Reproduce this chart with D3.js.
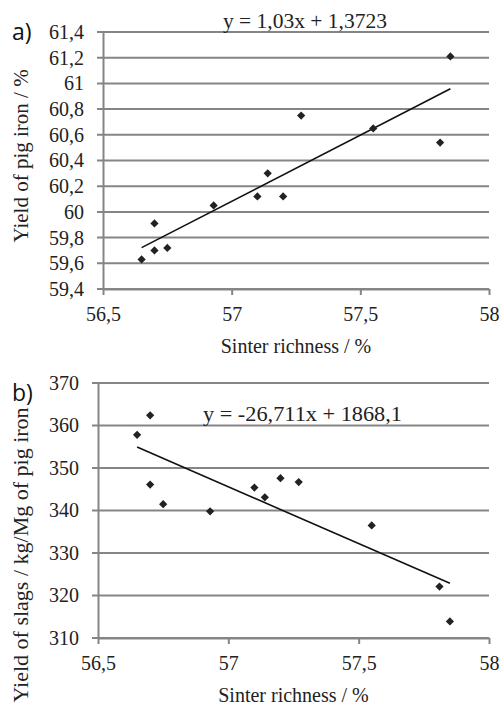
<!DOCTYPE html>
<html>
<head>
<meta charset="utf-8">
<script src="https://cdn.jsdelivr.net/npm/d3@7"></script>
<style>
  body { margin: 0; background: #fff; }
  svg { display: block; }
  .tick text { font-family: "Liberation Serif", "Times New Roman", serif !important; }
</style>
</head>
<body>
<div id="chart"></div>
<script>
const width = 501;
const height = 705;

// Data
const sinterRichness = [56.65, 56.70, 56.70, 56.75, 56.93, 57.10, 57.14, 57.20, 57.27, 57.55, 57.81, 57.85];
const pigIronYield = [59.63, 59.91, 59.70, 59.72, 60.05, 60.12, 60.30, 60.12, 60.75, 60.65, 60.54, 61.21];
const slagYield = [357.8, 362.4, 346.1, 341.5, 339.8, 345.4, 343.1, 347.6, 346.7, 336.5, 322.1, 313.9];

const xTicks = [56.5, 57, 57.5, 58];
const yTicksA = [59.4, 59.6, 59.8, 60, 60.2, 60.4, 60.6, 60.8, 61, 61.2, 61.4];
const yTicksB = [310, 320, 330, 340, 350, 360, 370];

// trend line coefficients [slope, intercept]
const trendA = [1.03, 1.3723];
const trendB = [-26.711, 1868.1];

const serif = '"Liberation Serif", "Times New Roman", serif';
const sans = '"Open Sans", "Noto Sans", sans-serif';

const locale = d3.formatLocale({ decimal: ",", thousands: " ", grouping: [3], currency: ["", ""] });
const fmt = locale.format(".1~f");

const svg = d3.select("#chart")
  .append("svg")
  .attr("width", width)
  .attr("height", height);

const panels = [
  {
    label: "a)", labelPos: [12, 40],
    values: pigIronYield, yTicks: yTicksA, trend: trendA,
    xRange: [103, 489], yRange: [289, 32],
    eq: "y = 1,03x + 1,3723", eqPos: [223, 28], eqLen: 164,
    yTitle: "Yield of pig iron / %", yTitleY: 156, yTitleSize: 21
  },
  {
    label: "b)", labelPos: [12, 401],
    values: slagYield, yTicks: yTicksB, trend: trendB,
    xRange: [98, 489], yRange: [638, 383],
    eq: "y = -26,711x + 1868,1", eqPos: [203, 421], eqLen: 199,
    yTitle: "Yield of slags / kg/Mg of pig iron", yTitleY: 555, yTitleSize: 22
  }
];

panels.forEach(p => {
  const x = d3.scaleLinear().domain([56.5, 58]).range(p.xRange);
  const y = d3.scaleLinear().domain(d3.extent(p.yTicks)).range(p.yRange);
  const g = svg.append("g");
  const left = p.xRange[0], right = p.xRange[1];

  // gridlines (start at the tick's outer end)
  g.append("g")
    .selectAll("line")
    .data(p.yTicks)
    .enter()
    .append("line")
    .attr("x1", left - 6)
    .attr("x2", right)
    .attr("y1", d => y(d))
    .attr("y2", d => y(d))
    .attr("stroke", "#858585")
    .attr("stroke-width", 2);

  // y axis
  const yAxis = g.append("g")
    .attr("transform", `translate(${left},0)`)
    .call(d3.axisLeft(y).tickValues(p.yTicks).tickFormat(fmt).tickSize(0).tickPadding(19))
    .attr("font-family", serif)
    .attr("font-size", 20);
  yAxis.select(".domain").attr("stroke", "#858585").attr("stroke-width", 2);
  yAxis.selectAll("text")
    .style("font-size", "20px")
    .style("fill", "#222");

  // x axis
  const xAxis = g.append("g")
    .attr("transform", `translate(0,${p.yRange[0]})`)
    .call(d3.axisBottom(x).tickValues(xTicks).tickFormat(fmt).tickSizeInner(6).tickSizeOuter(0).tickPadding(12))
    .attr("font-family", serif)
    .attr("font-size", 20);
  xAxis.select(".domain").attr("stroke", "#858585").attr("stroke-width", 2);
  xAxis.selectAll("line").attr("stroke", "#858585").attr("stroke-width", 2);
  xAxis.selectAll("text")
    .style("font-size", "20px")
    .style("fill", "#222");

  // trend line
  const xs = d3.extent(sinterRichness);
  g.append("line")
    .attr("x1", x(xs[0]))
    .attr("y1", y(p.trend[0] * xs[0] + p.trend[1]))
    .attr("x2", x(xs[1]))
    .attr("y2", y(p.trend[0] * xs[1] + p.trend[1]))
    .attr("stroke", "#111")
    .attr("stroke-width", 1.6);

  // points
  const diamond = d3.symbol(d3.symbolSquare, 34);
  g.append("g")
    .selectAll("path")
    .data(sinterRichness.map((d, i) => [d, p.values[i]]))
    .enter()
    .append("path")
    .attr("d", diamond)
    .attr("transform", d => `translate(${x(d[0])},${y(d[1])}) rotate(45)`)
    .attr("fill", "#222");

  // equation
  g.append("text")
    .attr("x", p.eqPos[0])
    .attr("y", p.eqPos[1])
    .attr("textLength", p.eqLen)
    .attr("lengthAdjust", "spacingAndGlyphs")
    .style("font-family", serif)
    .style("font-size", "20px")
    .style("fill", "#222")
    .text(p.eq);

  // axis titles
  g.append("text")
    .attr("x", (left + right) / 2)
    .attr("y", p.yRange[0] + 64)
    .attr("text-anchor", "middle")
    .style("font-family", serif)
    .style("font-size", "20px")
    .style("fill", "#222")
    .text("Sinter richness / %");

  g.append("text")
    .attr("transform", `translate(28,${p.yTitleY}) rotate(-90)`)
    .attr("text-anchor", "middle")
    .style("font-family", serif)
    .style("font-size", p.yTitleSize + "px")
    .style("fill", "#222")
    .text(p.yTitle);

  // panel label
  g.append("text")
    .attr("x", p.labelPos[0])
    .attr("y", p.labelPos[1])
    .style("font-family", sans)
    .style("font-size", "23px")
    .style("fill", "#111")
    .text(p.label);
});
</script>
</body>
</html>
